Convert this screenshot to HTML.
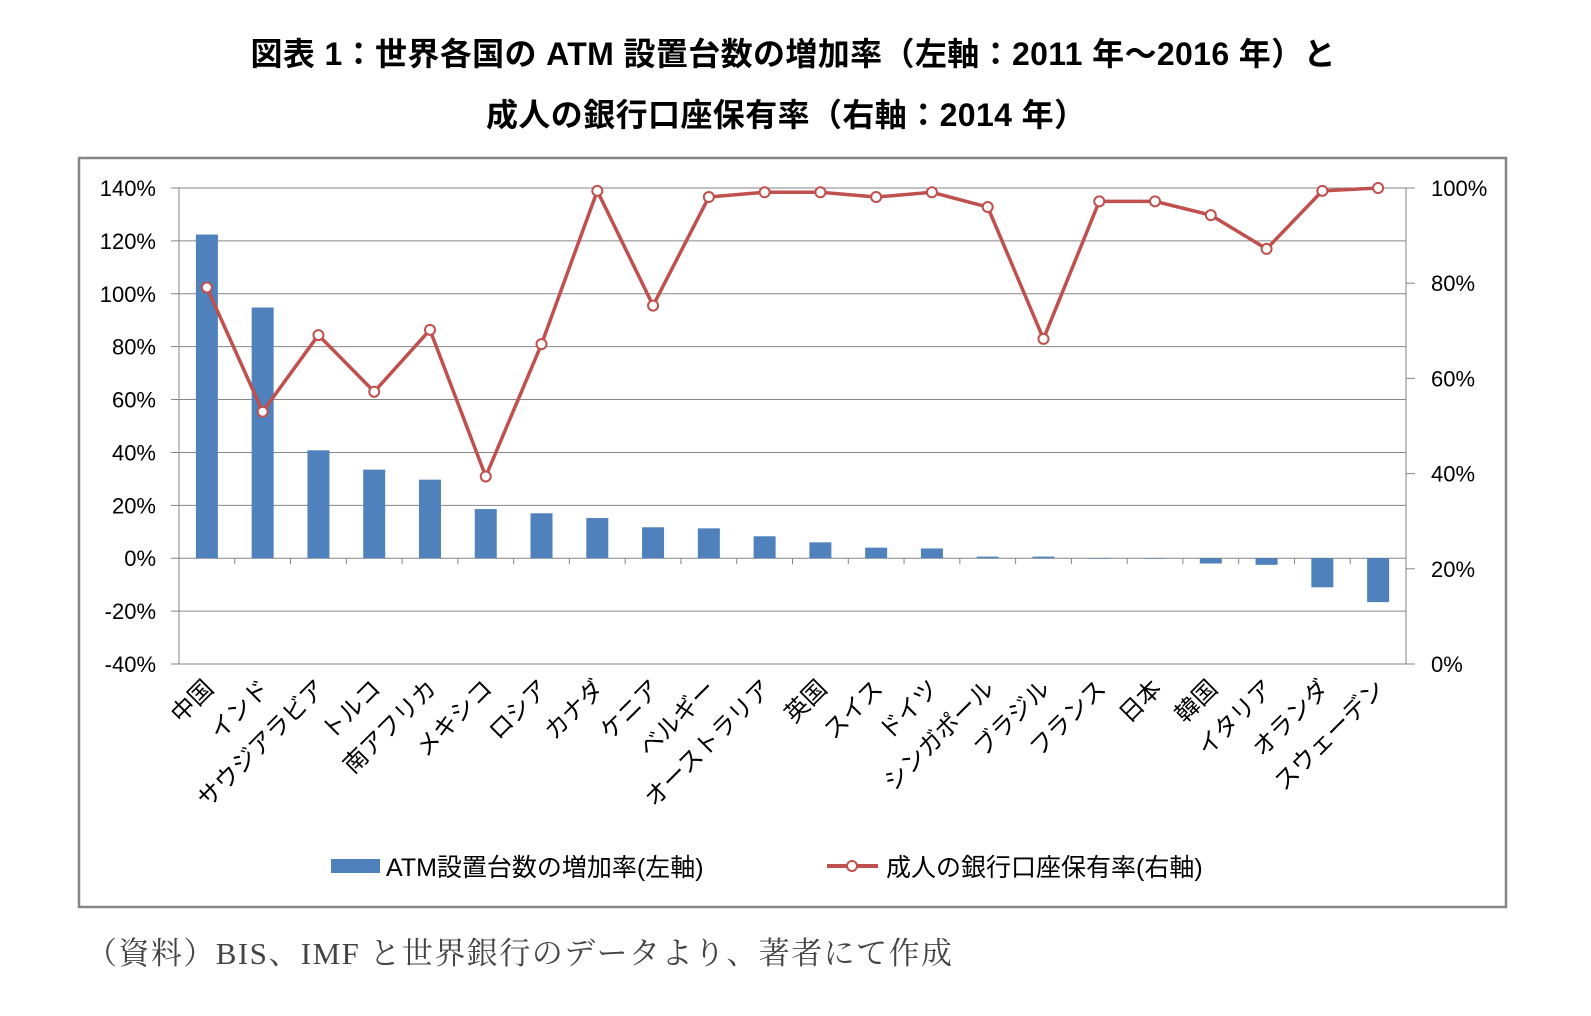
<!DOCTYPE html>
<html><head><meta charset="utf-8">
<style>
body{margin:0;background:#fff;width:1591px;height:1011px;overflow:hidden;font-family:"Liberation Sans","Noto Sans CJK JP",sans-serif;}
</style></head>
<body>
<svg id="chart" width="1591" height="1011" xmlns="http://www.w3.org/2000/svg">
<text x="793" y="65" text-anchor="middle" font-size="32" font-weight="bold" textLength="1085" font-family="'Liberation Sans','Noto Sans CJK JP',sans-serif">図表 1：世界各国の ATM 設置台数の増加率（左軸：2011 年～2016 年）と</text>
<text x="786" y="126" text-anchor="middle" font-size="32" font-weight="bold" textLength="600" font-family="'Liberation Sans','Noto Sans CJK JP',sans-serif">成人の銀行口座保有率（右軸：2014 年）</text>
<rect x="79" y="158" width="1427" height="749" fill="#fff" stroke="#868686" stroke-width="2.5"/>
<g id="grid"></g><g id="bars"></g><g id="line"></g><g id="labels"></g>
<g>
<rect x="331" y="859" width="49" height="14" fill="#4f81bd"/>
<text x="386" y="876" font-size="25">ATM設置台数の増加率(左軸)</text>
<line x1="827" y1="866" x2="878" y2="866" stroke="#c0504d" stroke-width="4"/>
<circle cx="852" cy="866" r="5" fill="#fff" stroke="#c0504d" stroke-width="2"/>
<text x="886" y="876" font-size="25">成人の銀行口座保有率(右軸)</text>
</g>
<text x="86" y="964" font-size="31" fill="#444" textLength="866" font-family="'Liberation Serif','Noto Serif CJK SC',serif">（資料）BIS、IMF と世界銀行のデータより、著者にて作成</text>
</svg>
<script>
const categories=["中国","インド","サウジアラビア","トルコ","南アフリカ","メキシコ","ロシア","カナダ","ケニア","ベルギー","オーストラリア","英国","スイス","ドイツ","シンガポール","ブラジル","フランス","日本","韓国","イタリア","オランダ","スウェーデン"];
const atmGrowth=[122.4,94.8,40.8,33.5,29.7,18.6,17,15.2,11.7,11.3,8.3,6,4,3.7,0.6,0.6,0,0,-2,-2.5,-11,-16.6];
const accountRate=[79.1,53,69.1,57.2,70.2,39.4,67.2,99.4,75.3,98.1,99.1,99.1,98.1,99.1,96,68.3,97.2,97.2,94.3,87.2,99.4,100];
const leftTicks=[140,120,100,80,60,40,20,0,-20,-40];
const rightTicks=[100,80,60,40,20,0];
const NS="http://www.w3.org/2000/svg";
const X0=179,X1=1406,YT=188,YB=664;
const band=(X1-X0)/categories.length;
const xc=i=>X0+band*(i+0.5);
const yL=v=>YT+(140-v)/180*(YB-YT);
const yR=v=>YT+(100-v)/100*(YB-YT);
function mk(tag,attrs,parent){const e=document.createElementNS(NS,tag);for(const k in attrs)e.setAttribute(k,attrs[k]);parent.appendChild(e);return e;}
const grid=document.getElementById('grid'),bars=document.getElementById('bars'),line=document.getElementById('line'),labels=document.getElementById('labels');
leftTicks.forEach(t=>{
 const g=mk('line',{x1:171,x2:X1,y1:yL(t),y2:yL(t),stroke:'#868686','stroke-width':1},grid);
 
 
 const tx=mk('text',{x:156,y:yL(t)+8,'text-anchor':'end','font-size':22},grid);
 tx.textContent=t+'%';
 
 
});
rightTicks.forEach(t=>{
 mk('line',{x1:X1,x2:X1+9,y1:yR(t),y2:yR(t),stroke:'#868686'},grid);
 const tx=mk('text',{x:1431,y:yR(t)+8,'font-size':22},grid);
 tx.textContent=t+'%';
 
 
});
mk('line',{x1:X0,x2:X0,y1:YT,y2:YB,stroke:'#868686'},grid);
mk('line',{x1:X1,x2:X1,y1:YT,y2:YB,stroke:'#868686'},grid);
for(let i=0;i<=categories.length;i++){mk('line',{x1:X0+band*i,x2:X0+band*i,y1:yL(0),y2:yL(0)+6,stroke:'#868686'},grid);}
const bw=22;
atmGrowth.forEach((v,i)=>{
 const y0=yL(0),y1=yL(v);
 const r=mk('rect',{x:xc(i)-bw/2,y:Math.min(y0,y1),width:bw,height:Math.max(Math.abs(y1-y0),0.5),fill:'#4f81bd'},bars);
 
 
});
const pts=accountRate.map((v,i)=>xc(i)+','+yR(v)).join(' ');
const pl=mk('polyline',{points:pts,fill:'none',stroke:'#c0504d','stroke-width':3.5,'stroke-linejoin':'round'},line);


accountRate.forEach((v,i)=>{
 const c=mk('circle',{cx:xc(i),cy:yR(v),r:5,fill:'#fff',stroke:'#c0504d','stroke-width':2},line);
 
 
});
categories.forEach((c,i)=>{
 const x=xc(i)+8,y=690;
 const t=mk('text',{x:x,y:y,'text-anchor':'end','font-size':24,transform:`rotate(-45 ${x} ${y})`},labels);
 t.textContent=c;
 
 
});
</script>
</body></html>
